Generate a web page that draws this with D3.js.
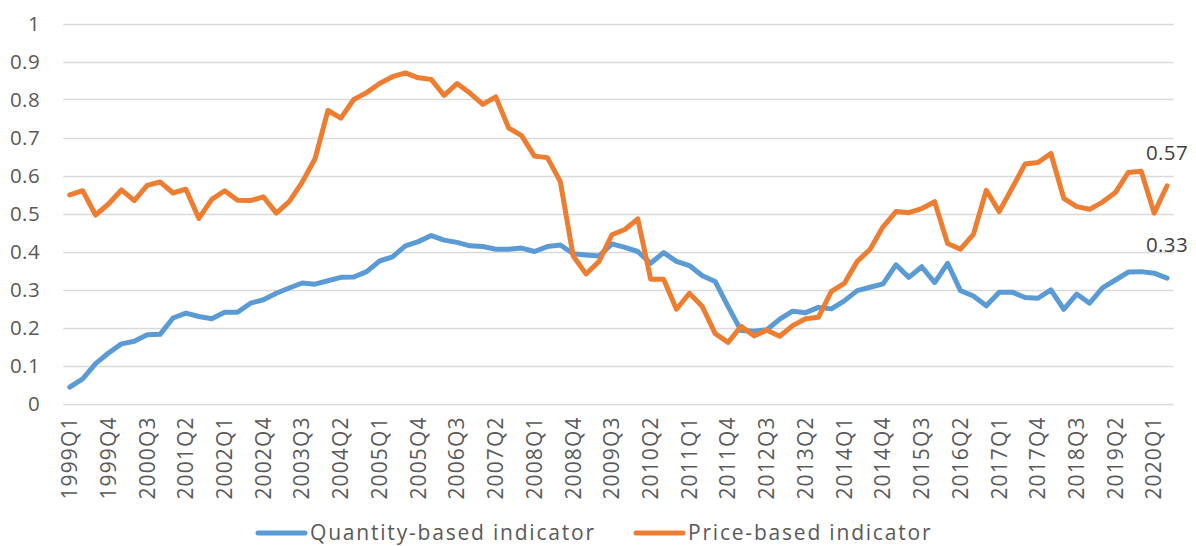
<!DOCTYPE html>
<html>
<head>
<meta charset="utf-8">
<script src="https://cdn.jsdelivr.net/npm/d3@7"></script>
<style>
  body { margin: 0; background: #fff; }
  svg { display: block; font-family: "Open Sans", "Noto Sans", sans-serif; }
</style>
</head>
<body>
<svg id="chart" width="1196" height="546"></svg>
<script>
// quarters 1999Q1 .. 2020Q2
var years = d3.range(1999, 2021);
var quarters = [];
years.forEach(function (y) {
    ["Q1", "Q2", "Q3", "Q4"].forEach(function (q) { quarters.push(y + q); });
});
quarters = quarters.slice(0, 86);

var tickLabels = ["1999Q1", "1999Q4", "2000Q3", "2001Q2", "2002Q1", "2002Q4", "2003Q3",
    "2004Q2", "2005Q1", "2005Q4", "2006Q3", "2007Q2", "2008Q1", "2008Q4", "2009Q3",
    "2010Q2", "2011Q1", "2011Q4", "2012Q3", "2013Q2", "2014Q1", "2014Q4", "2015Q3",
    "2016Q2", "2017Q1", "2017Q4", "2018Q3", "2019Q2", "2020Q1"];

var yTicks = [0, 0.1, 0.2, 0.3, 0.4, 0.5, 0.6, 0.7, 0.8, 0.9, 1];

var quantity = [
    0.043, 0.065, 0.105, 0.133, 0.157, 0.164, 0.181, 0.182, 0.225, 0.238,
    0.229, 0.223, 0.240, 0.240, 0.264, 0.273, 0.290, 0.304, 0.317, 0.314,
    0.323, 0.332, 0.333, 0.347, 0.375, 0.386, 0.415, 0.426, 0.442, 0.430,
    0.424, 0.415, 0.413, 0.406, 0.406, 0.409, 0.400, 0.413, 0.417, 0.394,
    0.391, 0.388, 0.420, 0.411, 0.400, 0.369, 0.397, 0.374, 0.363, 0.336,
    0.321, 0.255, 0.192, 0.190, 0.194, 0.222, 0.243, 0.239, 0.253, 0.249,
    0.270, 0.297, 0.306, 0.315, 0.365, 0.332, 0.360, 0.318, 0.369, 0.297,
    0.283, 0.257, 0.293, 0.293, 0.279, 0.277, 0.299, 0.248, 0.288, 0.264,
    0.304, 0.325, 0.346, 0.347, 0.343, 0.330
];

var price = [
    0.549, 0.560, 0.496, 0.525, 0.562, 0.534, 0.574, 0.583, 0.554, 0.564,
    0.487, 0.537, 0.560, 0.535, 0.534, 0.544, 0.501, 0.531, 0.582, 0.644,
    0.771, 0.751, 0.800, 0.818, 0.842, 0.860, 0.870, 0.857, 0.853, 0.811,
    0.842, 0.817, 0.787, 0.807, 0.725, 0.705, 0.651, 0.647, 0.584, 0.388,
    0.341, 0.374, 0.444, 0.458, 0.486, 0.327, 0.327, 0.248, 0.290, 0.255,
    0.184, 0.161, 0.203, 0.178, 0.193, 0.177, 0.205, 0.223, 0.227, 0.295,
    0.316, 0.374, 0.406, 0.465, 0.505, 0.502, 0.513, 0.531, 0.421, 0.406,
    0.445, 0.561, 0.505, 0.567, 0.630, 0.634, 0.658, 0.540, 0.518, 0.511,
    0.530, 0.555, 0.608, 0.611, 0.501, 0.573
];

var seriesNames = ["Quantity-based indicator", "Price-based indicator"];
var colors = ["#5B9BD5", "#ED7D31"];
var lastLabels = ["0.33", "0.57"];

var margin = { top: 23.5, left: 63.3, right: 1173.5, bottom: 403.5 };

var x = d3.scaleBand()
    .domain(quarters)
    .range([margin.left, margin.right]);
var y = d3.scaleLinear()
    .domain([0, 1])
    .range([margin.bottom, margin.top]);

var svg = d3.select("#chart");

// gridlines
svg.append("g")
    .selectAll("line")
    .data(yTicks)
    .enter().append("line")
    .attr("x1", margin.left)
    .attr("x2", margin.right)
    .attr("y1", function (d) { return Math.round(y(d)) + 0.5; })
    .attr("y2", function (d) { return Math.round(y(d)) + 0.5; })
    .attr("stroke", "#D9D9D9")
    .attr("stroke-width", 1.3);

// y axis labels
svg.append("g")
    .selectAll("text")
    .data(yTicks)
    .enter().append("text")
    .attr("x", 40)
    .attr("y", function (d) { return y(d); })
    .attr("dy", "0.35em")
    .attr("text-anchor", "end")
    .attr("font-size", 20.5)
    .attr("letter-spacing", 0.4)
    .attr("fill", "#595959")
    .text(function (d) { return d3.format("~g")(d); });

// x axis labels (rotated)
var xAxis = d3.axisBottom(x)
    .tickValues(tickLabels)
    .tickSize(0)
    .tickPadding(0);
var gx = svg.append("g")
    .attr("transform", "translate(0," + margin.bottom + ")")
    .call(xAxis);
gx.select(".domain").remove();
gx.selectAll("text")
    .attr("font-size", 21)
    .attr("letter-spacing", 1.1)
    .attr("font-family", "\"Open Sans\", \"Noto Sans\", sans-serif")
    .attr("fill", "#595959")
    .attr("transform", "rotate(-90)")
    .attr("text-anchor", "end")
    .attr("x", -13)
    .attr("y", 0)
    .attr("dy", "0.35em");

var line = d3.line()
    .x(function (d, i) { return x(quarters[i]) + x.bandwidth() / 2; })
    .y(function (d) { return y(d); });

[quantity, price].forEach(function (s, k) {
    svg.append("path")
        .datum(s)
        .attr("fill", "none")
        .attr("stroke", colors[k])
        .attr("stroke-width", 5)
        .attr("stroke-linejoin", "round")
        .attr("stroke-linecap", "round")
        .attr("d", line);

    var last = s.length - 1;
    svg.append("text")
        .attr("x", x(quarters[last]) + x.bandwidth() / 2)
        .attr("y", y(s[last]) - 26)
        .attr("text-anchor", "middle")
        .attr("font-size", 20.5)
        .attr("letter-spacing", 0.4)
        .attr("fill", "#404040")
        .text(lastLabels[k]);
});

// legend
var legendX = [258, 636];
seriesNames.forEach(function (name, k) {
    var g = svg.append("g").attr("transform", "translate(" + legendX[k] + ",533)");
    g.append("line")
        .attr("x1", 0).attr("x2", 47)
        .attr("stroke", colors[k])
        .attr("stroke-width", 5)
        .attr("stroke-linecap", "round");
    g.append("text")
        .attr("x", 52)
        .attr("dy", "0.35em")
        .attr("font-size", 21)
        .attr("letter-spacing", 1.8)
        .attr("fill", "#595959")
        .text(name);
});
</script>
</body>
</html>
